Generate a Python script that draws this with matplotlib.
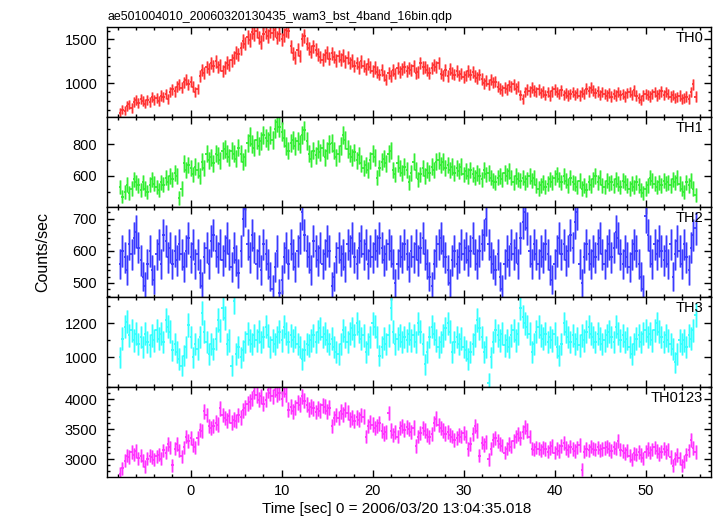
import matplotlib.pyplot as plt
import numpy as np
from matplotlib.ticker import MultipleLocator

plt.rcParams['font.family'] = ['Liberation Sans', 'DejaVu Sans']

title = "ae501004010_20060320130435_wam3_bst_4band_16bin.qdp"
xlabel = "Time [sec] 0 = 2006/03/20 13:04:35.018"
ylabel = "Counts/sec"

# 16 x 1/64 s bins
t_first = -7.75
binw = 0.25

bands = ["TH0", "TH1", "TH2", "TH3", "TH0123"]
colors = ["#ff3333", "#33ee33", "#3a3aff", "#33ffff", "#ff33ff"]

th0 = [
    665, 700, 690, 745, 760, 720, 790, 810,
    780, 820, 800, 770, 815, 790, 840, 805,
    830, 800, 860, 845, 880, 820, 900, 930,
    910, 960, 990, 950, 1010, 1040, 990, 1020,
    960, 900, 935, 1080, 1150, 1120, 1190, 1160,
    1230, 1200, 1250, 1190, 1210, 1140, 1180, 1235,
    1210, 1260, 1290, 1350, 1330, 1400, 1480, 1450,
    1530, 1490, 1580, 1560, 1600, 1520, 1470, 1560,
    1580, 1540, 1600, 1570, 1610, 1520, 1560, 1500,
    1550, 1610, 1590, 1420, 1340, 1290, 1380, 1310,
    1500, 1540, 1450, 1400, 1360, 1420, 1380, 1330,
    1300, 1270, 1320, 1350, 1280, 1340, 1300, 1260,
    1310, 1270, 1320, 1250, 1290, 1230, 1260, 1200,
    1230, 1180, 1250, 1200, 1160, 1220, 1190, 1140,
    1180, 1130, 1100, 1150, 1090, 1040, 1120, 1080,
    1150, 1110, 1170, 1130, 1160, 1190, 1140, 1170,
    1150, 1200, 1120, 1130, 1230, 1180, 1190, 1150,
    1120, 1170, 1210, 1190, 1230, 1110, 1090, 1150,
    1080, 1160, 1120, 1100, 1140, 1090, 1110, 1070,
    1090, 1140, 1100, 1130, 1080, 1060, 1100, 1050,
    1000, 1030, 990, 1040, 1010, 1020, 960, 940,
    920, 950, 930, 980, 960, 990, 940, 960,
    870, 820, 900, 930, 910, 950, 920, 900,
    930, 890, 910, 870, 900, 860, 910, 930,
    900, 880, 920, 870, 890, 860, 880, 900,
    870, 890, 860, 900, 880, 940, 910, 950,
    920, 890, 910, 870, 900, 880, 860, 890,
    850, 880, 860, 900, 870, 880, 850, 890,
    900, 870, 920, 860, 830, 810, 860, 880,
    870, 850, 880, 900, 860, 880, 910, 870,
    900, 880, 850, 870, 830, 840, 860, 820,
    830, 850, 820, 900, 990, 850,
]

th1 = [
    530, 470, 500, 545, 490, 520, 580, 560,
    540, 510, 560, 520, 500, 545, 580, 550,
    530, 510, 560, 545, 590, 560, 600, 580,
    620, 600, 460, 520, 680, 640, 670, 650,
    610, 660, 640, 600, 690, 650, 740, 700,
    720, 680, 740, 730, 700, 760, 770, 740,
    720, 760, 740, 710, 780, 740, 690, 720,
    810, 850, 800, 780, 830, 790, 820, 860,
    840, 820, 860, 830, 900, 940, 910, 880,
    840, 790, 760, 810, 830, 790, 820, 800,
    860, 890, 820, 740, 710, 760, 730, 770,
    750, 780, 720, 760, 800, 810, 760, 720,
    740, 790, 860, 830, 770, 740, 720, 750,
    700, 730, 680, 650, 670, 640, 700, 740,
    720, 590, 650, 690, 710, 680, 740, 760,
    640, 610, 680, 650, 620, 660, 640, 560,
    620, 690, 640, 580, 610, 650, 600, 640,
    620, 660, 640, 690, 700, 670, 690, 650,
    670, 640, 660, 620, 650, 630, 660, 610,
    630, 600, 640, 610, 590, 620, 600, 580,
    640, 610, 620, 590, 570, 560, 590, 600,
    580, 620, 600, 630, 590, 560, 600, 580,
    570, 590, 560, 580, 600, 570, 590, 540,
    520, 540, 560, 530, 550, 580, 560, 590,
    610, 580, 560, 600, 570, 540, 590, 560,
    550, 530, 570, 520, 540, 510, 560, 540,
    580, 600, 560, 590, 540, 530, 570, 550,
    560, 540, 580, 550, 530, 570, 560, 540,
    520, 550, 530, 560, 540, 510, 490, 520,
    540, 590, 570, 550, 530, 560, 540, 570,
    550, 560, 540, 580, 560, 590, 550, 520,
    500, 560, 540, 570, 520, 480,
]

th2 = [
    560, 600, 580, 540, 620, 590, 640, 660,
    610, 570, 520, 490, 560, 600, 540, 510,
    590, 620, 560, 650, 630, 580, 610, 560,
    600, 570, 620, 590, 550, 600, 640, 580,
    620, 560, 590, 530, 490, 580, 610, 560,
    630, 650, 600, 580, 620, 570, 600, 640,
    590, 550, 610, 570, 530, 600, 700, 730,
    620, 580, 650, 610, 560, 600, 540, 620,
    590, 560, 520, 480, 550, 600, 470, 510,
    580, 610, 560, 620, 590, 550, 600, 640,
    720, 650, 600, 580, 540, 630, 600, 570,
    610, 560, 590, 630, 600, 490, 520, 580,
    610, 570, 590, 550, 620, 600, 640, 580,
    560, 610, 630, 590, 620, 560, 600, 580,
    620, 600, 640, 610, 570, 590, 620, 600,
    560, 500, 560, 600, 580, 620, 590, 550,
    600, 580, 620, 570, 610, 640, 590, 560,
    520, 490, 560, 600, 620, 640, 600, 580,
    540, 500, 570, 600, 560, 580, 620, 590,
    610, 570, 600, 640, 590, 560, 600, 620,
    650, 700, 620, 580, 560, 540, 590, 520,
    480, 560, 600, 570, 620, 590, 610, 560,
    640, 690, 720, 670, 600, 560, 620, 590,
    560, 600, 580, 620, 590, 540, 510, 560,
    600, 640, 590, 620, 570, 600, 650, 610,
    690, 720, 560, 500, 580, 620, 590, 560,
    600, 580, 620, 640, 590, 560, 600, 620,
    580, 610, 660, 640, 590, 560, 600, 580,
    550, 590, 620, 600, 560, 520, 480, 710,
    650, 600, 560, 620, 590, 630, 600, 570,
    600, 560, 620, 520, 590, 630, 600, 560,
    620, 580, 540, 610, 650, 670,
]

th3 = [
    1000, 1110, 1180, 1210, 1130, 1160, 1100, 1140,
    1080, 1120, 1060, 1140, 1090, 1070, 1130, 1100,
    1160, 1110, 1140, 1090, 1220, 1180, 1150, 1040,
    1080, 1030, 990, 950, 1010, 1060, 1190, 1120,
    1000, 1080, 1050, 1120, 1260, 1150, 1090, 1020,
    1080, 1050, 1110, 1220, 1160, 1290, 1230, 1080,
    1100, 950, 1330, 1020, 1060, 1000, 1040, 1090,
    1140, 1100, 1080, 1130, 1100, 1150, 1090, 1120,
    1180, 1130, 1060, 1100, 1080, 1120, 1150, 1100,
    1180, 1140, 1090, 1130, 1100, 1120, 1080, 1060,
    990, 1040, 1080, 1070, 1100, 1130, 1090, 1150,
    1170, 1120, 1140, 1100, 1080, 1110, 1060, 1030,
    1020, 1080, 1160, 1120, 1090, 1140, 1170, 1130,
    1200, 1150, 1110, 1130, 1030, 1080, 1120, 1200,
    1180, 1120, 1010, 1060, 1110, 1080, 1130, 1290,
    1150, 1080, 1110, 1130, 1090, 1120, 1100, 1140,
    1100, 1130, 1090, 1200, 1150, 1080, 960, 1030,
    1120, 1180, 1140, 1100, 1060, 1090, 1130, 1170,
    1200, 1150, 1030, 1090, 1120, 1080, 1110, 1060,
    1040, 990, 1030, 1080, 1130, 1220, 1170, 1120,
    1030, 1060, 850, 1000, 1090, 1160, 1130, 1100,
    1140, 1070, 1100, 1060, 1130, 1160, 1100, 1140,
    1290, 1240, 1200, 1180, 1140, 1030, 1080, 1150,
    1180, 1130, 1110, 1140, 1090, 1120, 1100, 1140,
    1060, 1010, 1080, 1200, 1150, 1120, 1090, 1130,
    1080, 1110, 1070, 1130, 1100, 1150, 1180, 1140,
    1120, 1090, 1140, 1110, 1080, 1100, 1130, 1150,
    1120, 1090, 1180, 1140, 1100, 1130, 1090, 1110,
    1060, 1020, 1080, 1110, 1130, 1090, 1140, 1160,
    1120, 1140, 1100, 1160, 1200, 1150, 1120, 1090,
    1130, 1100, 1080, 1050, 970, 1020, 1100, 1080,
    1100, 1060, 1130, 1110, 1160, 1250,
]

th0123 = [
    2760, 2850, 2980, 3060, 3040, 3120, 3080, 3140,
    3020, 3060, 2980, 2880, 3010, 3060, 3040, 2990,
    3050, 3080, 3010, 3150, 3110, 3260, 3200, 2900,
    3180, 3260, 3150, 3050, 3200, 3380, 3300, 3360,
    3240, 3200, 3350, 3490, 3470, 3800, 3740, 3560,
    3520, 3560, 3610, 3580, 3850, 3740, 3690, 3650,
    3720, 3610, 3660, 3640, 3740, 3700, 3820, 3860,
    3930, 3960, 4010, 4140, 4070, 3990, 4050, 3930,
    3990, 4150, 4100, 4050, 4160, 4080, 4110, 4010,
    4170, 4090, 3830, 3880, 3800, 3870, 3940, 3910,
    4050, 3980, 3910, 3830, 3880, 3850, 3790, 3840,
    3810, 3900, 3880, 3800, 3860, 3560, 3690, 3740,
    3690, 3800, 3750, 3830, 3780, 3660, 3700, 3640,
    3700, 3660, 3740, 3710, 3380, 3560, 3620, 3580,
    3520, 3550, 3600, 3480, 3430, 3460, 3770, 3480,
    3400, 3450, 3380, 3520, 3560, 3490, 3540, 3510,
    3460, 3530, 3220, 3380, 3440, 3520, 3480, 3410,
    3370, 3420, 3600, 3680, 3570, 3520, 3480, 3430,
    3460, 3410, 3380, 3320, 3360, 3410, 3380, 3440,
    3380, 3170, 3260, 3420, 3550, 3480, 3060, 3280,
    3240, 3290, 3000, 3180, 3320, 3360, 3300, 3260,
    3230, 3110, 3180, 3260, 3210, 3300, 3380, 3420,
    3350, 3460, 3540, 3480, 3380, 3180, 3160, 3200,
    3180, 3150, 3200, 3170, 3130, 3190, 3220, 3110,
    3180, 3140, 3220, 3270, 3190, 3150, 3210, 3170,
    3140, 3200, 3240, 2830, 3130, 3170, 3150, 3210,
    3180, 3160, 3200, 3150, 3170, 3190, 3210, 3170,
    3140, 3200, 3180, 3310, 3160, 3140, 3100, 3150,
    3060, 2990, 3100, 3080, 3120, 3070, 3020, 3130,
    3170, 3110, 3160, 3200, 3140, 3090, 3130, 3180,
    3120, 3160, 3040, 2890, 3010, 3070, 3020, 2900,
    2960, 3080, 3150, 3320, 3190, 3120,
]

series = [th0, th1, th2, th3, th0123]
ylims = [(617, 1640), (404, 973), (456, 737), (825, 1355), (2705, 4205)]
ymajor = [500, 200, 100, 200, 500]
yminor = [100, 100, 20, 100, 100]
xlim = (-9.2, 57.2)

W, H = 717, 516
fig = plt.figure(figsize=(W / 100, H / 100), dpi=100)

left, right = 107, 711
top, ph = 27, 90

for i, (name, col, vals) in enumerate(zip(bands, colors, series)):
    y = np.array(vals, dtype=float)
    t = t_first + binw * np.arange(len(y))
    err = np.sqrt(y / binw)

    y0 = top + i * ph
    ax = fig.add_axes([left / W, 1 - (y0 + ph) / H, (right - left) / W, ph / H])

    ax.errorbar(t, y, yerr=err, fmt='none', ecolor=col, elinewidth=1.8,
                alpha=0.5, capsize=0)
    ax.errorbar(t, y, yerr=err, fmt='none', ecolor=col, elinewidth=0.8,
                capsize=0)
    ax.errorbar(t, y, xerr=binw / 2, fmt='none', ecolor=col, elinewidth=1.3,
                capsize=0)

    ax.set_xlim(*xlim)
    ax.set_ylim(*ylims[i])
    ax.xaxis.set_major_locator(MultipleLocator(10))
    ax.xaxis.set_minor_locator(MultipleLocator(2))
    ax.yaxis.set_major_locator(MultipleLocator(ymajor[i]))
    ax.yaxis.set_minor_locator(MultipleLocator(yminor[i]))
    ax.tick_params(which='both', direction='in', top=True, right=True,
                   width=1, labelsize=10.5)
    ax.tick_params(axis='y', pad=7)
    ax.tick_params(axis='x', pad=5)
    ax.tick_params(which='major', length=4.7)
    ax.tick_params(which='minor', length=2.4)
    for s in ax.spines.values():
        s.set_linewidth(1)
    if i < len(bands) - 1:
        ax.tick_params(labelbottom=False)

    ax.text(1 - 8 / (right - left), 1 - 11 / ph, name, transform=ax.transAxes,
            ha='right', va='center', fontsize=10.5)

fig.text(108 / W, 1 - 20 / H, title, ha='left', va='baseline', fontsize=8.9)
fig.text(397 / W, 1 - 509 / H, xlabel, ha='center', va='center', fontsize=11)
fig.text(43 / W, 1 - 252 / H, ylabel, ha='center', va='center',
         rotation=90, fontsize=11.5)

fig.savefig('out.png', dpi=100)
